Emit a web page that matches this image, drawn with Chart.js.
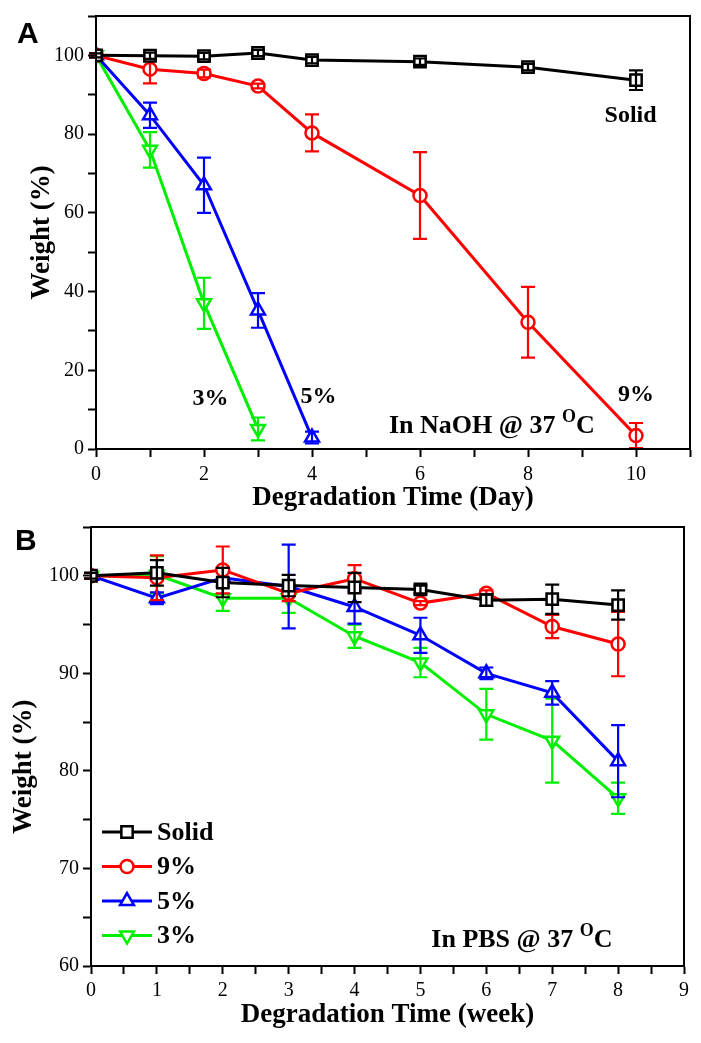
<!DOCTYPE html>
<html lang="en">
<head>
<meta charset="UTF-8">
<title>Degradation of scaffolds</title>
<script src="https://cdn.jsdelivr.net/npm/chart.js"></script>
<style>
  body { margin: 0; background: #fff; }
  #wrap { position: relative; width: 701px; height: 1043px; }
  canvas { position: absolute; left: 0; }
  #chartA { top: 0; }
  #chartB { top: 505px; }
</style>
</head>
<body>
<div id="wrap">
  <canvas id="chartB" width="701" height="538"></canvas>
  <canvas id="chartA" width="701" height="514"></canvas>
</div>
<script>
// ---- Panel A: in NaOH, days ----
const daysA = [0, 1, 2, 3, 4, 6, 8, 10];
const days5A = [0, 1, 2, 3, 4];
const days3A = [0, 1, 2, 3];
const solidA = [100, 99.9, 99.8, 100.6, 98.8, 98.4, 97.0, 93.7];
const solidAErr = [0.5, 0.8, 0.8, 0.8, 0.8, 0.8, 0.8, 2.5];
const pct9A = [100, 96.5, 95.4, 92.2, 80.3, 64.4, 32.2, 3.4];
const pct9AErr = [0.5, 3.6, 1.0, 0.6, 4.7, 11, 9, 3.2];
const pct5A = [100, 84.8, 67.0, 35.2, 2.9];
const pct5AErr = [0.5, 3.2, 7, 4.4, 1.5];
const pct3A = [100, 76, 37, 5.1];
const pct3AErr = [0.5, 4.5, 6.5, 2.9];

// ---- Panel B: in PBS, weeks ----
const weeksB = [0, 1, 2, 3, 4, 5, 6, 7, 8];
const solidB = [100, 100.3, 99.3, 99.0, 98.8, 98.6, 97.5, 97.6, 97.0];
const solidBErr = [0.3, 1.3, 1.5, 1.1, 1.5, 0.4, 0.6, 1.5, 1.5];
const pct9B = [100, 99.8, 100.6, 98.2, 99.7, 97.2, 98.2, 94.8, 93.0];
const pct9BErr = [0.3, 2.3, 2.4, 0.8, 1.4, 0.2, 0.3, 1.2, 3.3];
const pct5B = [100, 97.7, 99.8, 98.9, 96.8, 93.9, 90.0, 88.0, 81.0];
const pct5BErr = [0.3, 0.6, 0.9, 4.3, 1.7, 1.8, 0.6, 1.2, 3.7];
const pct3B = [100, 100.1, 97.7, 97.7, 93.8, 91.1, 85.8, 83.1, 77.2];
const pct3BErr = [0.3, 1.9, 1.3, 1.5, 1.2, 1.5, 2.6, 4.3, 1.6];

const seriesNames = ['Solid', '9%', '5%', '3%'];
const colors = ['#000000', '#ff0000', '#0000ff', '#00ee00'];
const shapes = ['rect', 'circle', 'triangle', 'triangle'];
const rotations = [0, 0, 0, 180];
const radii = [8, 6.5, 8, 8];

const serif = "'Liberation Serif', 'Times New Roman', serif";

function pts(xs, ys) {
  return xs.map((x, i) => ({ x: x, y: ys[i] }));
}

function makeDataset(idx, xs, ys, errs) {
  return {
    label: seriesNames[idx],
    data: pts(xs, ys),
    errors: errs,
    borderColor: colors[idx],
    backgroundColor: '#ffffff',
    borderWidth: 3,
    pointStyle: shapes[idx],
    pointRotation: rotations[idx],
    pointRadius: radii[idx],
    pointBorderWidth: 2.5,
    pointBackgroundColor: '#ffffff',
    pointBorderColor: colors[idx],
    tension: 0
  };
}

// error bars, drawn right after each dataset
const errorBars = {
  id: 'errorBars',
  afterDatasetDraw(chart, args) {
    const ds = chart.data.datasets[args.index];
    const meta = args.meta;
    const y = chart.scales.y;
    const ctx = chart.ctx;
    ctx.save();
    ctx.strokeStyle = ds.borderColor;
    ctx.lineWidth = 2.2;
    meta.data.forEach((pt, i) => {
      const v = ds.data[i].y;
      const e = ds.errors[i];
      const top = y.getPixelForValue(v + e);
      const bot = y.getPixelForValue(v - e);
      ctx.beginPath();
      ctx.moveTo(pt.x, top); ctx.lineTo(pt.x, bot);
      ctx.moveTo(pt.x - 7, top); ctx.lineTo(pt.x + 7, top);
      ctx.moveTo(pt.x - 7, bot); ctx.lineTo(pt.x + 7, bot);
      ctx.stroke();
    });
    ctx.restore();
  }
};

// box round the plot area
const frame = {
  id: 'frame',
  afterDraw(chart) {
    const a = chart.chartArea;
    const ctx = chart.ctx;
    ctx.save();
    ctx.strokeStyle = '#000';
    ctx.lineWidth = 2;
    ctx.strokeRect(a.left, a.top, a.right - a.left, a.bottom - a.top);
    ctx.restore();
  }
};

// text labels placed in data coordinates
function drawNote(chart, text, xv, yv, size, sup) {
  const ctx = chart.ctx;
  const px = chart.scales.x.getPixelForValue(xv);
  const py = chart.scales.y.getPixelForValue(yv);
  ctx.save();
  ctx.fillStyle = '#000';
  ctx.textBaseline = 'alphabetic';
  ctx.font = 'bold ' + size + 'px ' + serif;
  if (!sup) {
    ctx.textAlign = 'center';
    ctx.fillText(text, px, py);
  } else {
    // text + superscript "o" + "C"
    const supFont = 'bold ' + Math.round(size * 0.7) + 'px ' + serif;
    const w1 = ctx.measureText(text).width;
    const w3 = ctx.measureText('C').width;
    ctx.font = supFont;
    const w2 = ctx.measureText('O').width;
    let x = px - (w1 + w2 + w3) / 2;
    ctx.textAlign = 'left';
    ctx.font = 'bold ' + size + 'px ' + serif;
    ctx.fillText(text, x, py);
    ctx.font = supFont;
    ctx.fillText('O', x + w1, py - size * 0.45);
    ctx.font = 'bold ' + size + 'px ' + serif;
    ctx.fillText('C', x + w1 + w2, py);
  }
  ctx.restore();
}

function panelLetter(chart, letter, x, y) {
  const ctx = chart.ctx;
  ctx.save();
  ctx.fillStyle = '#000';
  ctx.font = "bold 30px 'Liberation Sans', Arial, sans-serif";
  ctx.textBaseline = 'alphabetic';
  ctx.fillText(letter, x, y);
  ctx.restore();
}

const notesA = {
  id: 'notesA',
  afterDraw(chart) {
    drawNote(chart, 'Solid', 9.9, 83.0, 24);
    drawNote(chart, '3%', 2.12, 11.3, 24);
    drawNote(chart, '5%', 4.12, 11.8, 24);
    drawNote(chart, '9%', 10.0, 12.3, 24);
    drawNote(chart, 'In NaOH @ 37 ', 7.33, 4.0, 26, true);
    panelLetter(chart, 'A', 17, 43);
  }
};

const notesB = {
  id: 'notesB',
  afterDraw(chart) {
    drawNote(chart, 'In PBS @ 37 ', 6.54, 61.9, 26, true);
    panelLetter(chart, 'B', 15, 45);
    // legend: line with symbol, then name
    const ctx = chart.ctx;
    chart.data.datasets.forEach((ds, i) => {
      const yy = 327 + i * 34.5;
      ctx.save();
      ctx.strokeStyle = ds.borderColor;
      ctx.lineWidth = 3;
      ctx.beginPath();
      ctx.moveTo(102, yy); ctx.lineTo(152, yy);
      ctx.stroke();
      ctx.fillStyle = '#fff';
      ctx.strokeStyle = ds.borderColor;
      ctx.lineWidth = 2.5;
      Chart.helpers.drawPoint(ctx, {
        pointStyle: ds.pointStyle,
        rotation: ds.pointRotation,
        radius: ds.pointRadius,
        borderWidth: 2.5
      }, 127, yy);
      ctx.fillStyle = '#000';
      ctx.font = 'bold 26px ' + serif;
      ctx.textBaseline = 'middle';
      ctx.fillText(ds.label, 157, yy + 1);
      ctx.restore();
    });
  }
};

function axisCommon() {
  return {
    type: 'linear',
    border: { display: true, width: 2, color: '#000' },
    grid: { display: true, drawOnChartArea: false, drawTicks: true, tickLength: 8, tickWidth: 2, color: '#000' },
  };
}

function tickFont() {
  return { family: serif, size: 20 };
}

function titleFont() {
  return { family: serif, size: 27, weight: 'bold' };
}

// Panel A
new Chart(document.getElementById('chartA'), {
  type: 'line',
  data: {
    datasets: [
      makeDataset(0, daysA, solidA, solidAErr),
      makeDataset(1, daysA, pct9A, pct9AErr),
      makeDataset(2, days5A, pct5A, pct5AErr),
      makeDataset(3, days3A, pct3A, pct3AErr)
    ]
  },
  options: {
    responsive: false,
    animation: false,
    layout: { padding: { top: 11, right: 11, left: 0, bottom: 0 } },
    plugins: { legend: { display: false }, tooltip: { enabled: false } },
    scales: {
      x: Object.assign(axisCommon(), {
        min: 0, max: 11,
        afterFit(s) { s.height = 65; },
        ticks: {
          stepSize: 1, autoSkip: false, maxRotation: 0, color: '#000', font: tickFont(), padding: 6,
          callback: v => (v % 2 === 0 && v <= 10) ? String(v) : ''
        },
        title: { display: true, text: 'Degradation Time (Day)', color: '#000', font: titleFont(), padding: { top: 0, bottom: 0 } }
      }),
      y: Object.assign(axisCommon(), {
        min: 0, max: 110,
        afterFit(s) { s.width = 96; },
        ticks: {
          stepSize: 10, autoSkip: false, color: '#000', font: tickFont(), padding: 4,
          callback: v => (v % 20 === 0 && v <= 100) ? String(v) : ''
        },
        title: { display: true, text: 'Weight (%)', color: '#000', font: titleFont(), padding: { top: 26, bottom: 0 } }
      })
    }
  },
  plugins: [errorBars, frame, notesA]
});

// Panel B
new Chart(document.getElementById('chartB'), {
  type: 'line',
  data: {
    datasets: [
      makeDataset(0, weeksB, solidB, solidBErr),
      makeDataset(1, weeksB, pct9B, pct9BErr),
      makeDataset(2, weeksB, pct5B, pct5BErr),
      makeDataset(3, weeksB, pct3B, pct3BErr)
    ]
  },
  options: {
    responsive: false,
    animation: false,
    layout: { padding: { top: 22, right: 17, left: 0, bottom: 0 } },
    plugins: { legend: { display: false }, tooltip: { enabled: false } },
    scales: {
      x: Object.assign(axisCommon(), {
        min: 0, max: 9,
        afterFit(s) { s.height = 77; },
        ticks: {
          stepSize: 0.5, autoSkip: false, maxRotation: 0, color: '#000', font: tickFont(), padding: 5,
          callback: v => Number.isInteger(v) ? String(v) : ''
        },
        title: { display: true, text: 'Degradation Time (week)', color: '#000', font: titleFont(), padding: { top: 0, bottom: 12 } }
      }),
      y: Object.assign(axisCommon(), {
        min: 60, max: 105,
        afterFit(s) { s.width = 91; },
        ticks: {
          stepSize: 5, autoSkip: false, color: '#000', font: tickFont(), padding: 4,
          callback: v => (v % 10 === 0) ? String(v) : ''
        },
        // trailing spaces push the title a little lower, as in the original
        title: { display: true, text: 'Weight (%)      ', color: '#000', font: titleFont(), padding: { top: 8, bottom: 0 } }
      })
    }
  },
  plugins: [errorBars, frame, notesB]
});
</script>
</body>
</html>
